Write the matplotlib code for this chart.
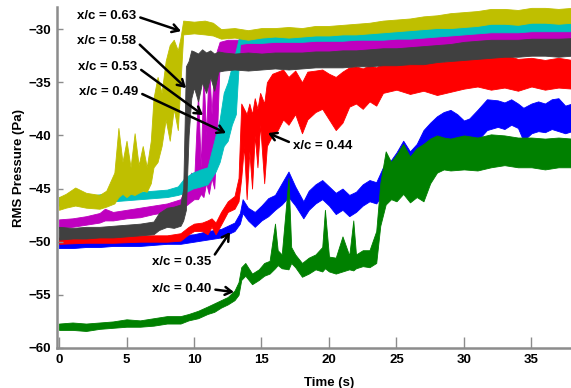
import matplotlib
matplotlib.use('Agg')
import matplotlib.pyplot as plt

plt.rcParams['font.family'] = ['Liberation Sans', 'DejaVu Sans']
plt.rcParams['font.weight'] = 'bold'

# x/c = 0.35 (blue)
t_035 = [0, 1, 2, 3, 4, 5, 6, 7, 8, 9, 10, 11, 12, 12.5, 13.0, 13.4, 13.6, 14.0, 14.5, 15.0, 15.5,
         16.0, 16.5, 17.0, 17.5, 18.1, 18.5, 19.0, 19.5, 20.0, 20.5, 21.0, 21.5, 22.0, 22.5, 23.0,
         23.5, 24.0, 24.5, 25.0, 25.5, 26.0, 26.5, 27.0, 27.5, 28.0, 28.5, 29.0, 29.5, 30.0, 30.4,
         31.0, 31.7, 32.5, 33.0, 33.5, 34.0, 34.4, 35.0, 35.5, 36.0, 36.5, 37.0, 37.5, 38.0]
lo_035 = [-50.6, -50.6, -50.5, -50.5, -50.4, -50.4, -50.4, -50.3, -50.2, -50.2, -50.0, -49.8, -49.6,
          -49.3, -49.0, -48.3, -47.3, -48.0, -48.6, -48.0, -47.6, -47.0, -46.5, -45.8, -46.6, -47.8,
          -47.0, -46.4, -46.0, -46.6, -47.4, -47.0, -47.6, -47.2, -46.6, -46.2, -46.4, -45.5, -45.0,
          -45.2, -44.5, -45.0, -44.6, -44.5, -43.0, -41.5, -40.6, -40.3, -40.8, -41.2, -41.8, -40.5,
          -39.5, -39.2, -39.4, -39.0, -39.3, -40.5, -39.8, -39.6, -39.7, -39.4, -39.6, -39.8, -39.6]
hi_035 = [-49.9, -49.9, -49.8, -49.8, -49.7, -49.6, -49.7, -49.6, -49.5, -49.4, -49.3, -49.0, -48.8,
          -48.5, -48.2, -47.3, -46.0, -46.8, -47.2, -46.6, -45.9, -45.6, -44.5, -43.4, -44.8, -46.2,
          -45.2, -44.6, -44.2, -44.8, -45.4, -45.0, -45.6, -45.3, -44.6, -44.2, -44.4, -43.0, -42.5,
          -41.6, -40.5, -41.5, -40.8, -39.5, -38.8, -38.2, -37.8, -37.6, -38.0, -38.6, -38.4, -37.6,
          -36.6, -36.7, -36.9, -36.6, -37.0, -37.4, -37.0, -36.8, -37.0, -36.6, -36.5, -37.2, -37.0]

# x/c = 0.40 (green)
t_040 = [0, 1, 2, 3, 4, 5, 6, 7, 8, 9, 9.6, 10.3, 11, 11.5, 12, 12.5, 13, 13.3, 13.5, 13.8, 14.3,
         14.8, 15.2, 15.6, 16.0, 16.2, 16.5, 17.0, 17.2, 17.5, 18.0, 18.5, 19.0, 19.5, 19.7, 20.0,
         20.5, 21.0, 21.5, 21.8, 22.0, 22.5, 23.0, 23.5, 23.8, 24.2, 24.6, 25.0, 25.5, 26.0, 26.5,
         27.0, 27.5, 28.0, 28.5, 29, 30, 31, 32, 33, 34, 35, 36, 37, 38]
lo_040 = [-58.3, -58.3, -58.4, -58.2, -58.1, -58.0, -58.0, -57.9, -57.7, -57.7, -57.4, -57.2, -56.8,
          -56.6, -56.2, -55.9, -55.5, -55.0, -53.6, -53.2, -54.0, -53.6, -53.2, -53.0, -52.5, -52.2,
          -52.5, -52.6, -52.0, -52.4, -53.3, -53.0, -52.6, -52.8, -52.5, -52.8, -53.0, -52.8, -52.6,
          -52.7, -52.5, -52.3, -52.4, -52.0, -48.5, -46.5, -46.0, -46.2, -45.5, -46.3, -45.8, -46.2,
          -44.5, -43.5, -43.2, -43.3, -43.2, -43.3, -43.0, -42.8, -43.0, -43.0, -43.2, -43.0, -43.0]
hi_040 = [-57.7, -57.6, -57.7, -57.6, -57.5, -57.3, -57.4, -57.2, -57.0, -57.0, -56.8, -56.5, -56.1,
          -55.8, -55.5, -55.2, -54.6, -53.8, -52.4, -52.0, -53.0, -52.6, -52.0, -51.8, -48.3, -50.8,
          -51.2, -44.0, -50.5, -51.2, -52.0, -51.5, -51.2, -50.5, -47.0, -51.4, -51.5, -49.5, -51.3,
          -48.0, -51.2, -50.8, -50.8, -49.0, -44.5, -41.5, -42.5, -41.8, -40.8, -42.0, -41.2, -40.8,
          -40.3, -40.0, -40.2, -40.3, -40.0, -40.2, -39.9, -40.0, -40.2, -40.2, -40.3, -40.2, -40.3]

# x/c = 0.44 (red)
t_044 = [0, 2, 4, 6, 8, 9, 9.6, 10.0, 10.6, 11.0, 11.3, 11.6, 12.0, 12.5, 13.0, 13.3, 13.5, 13.7,
         13.9, 14.1, 14.3, 14.5, 14.7, 14.9, 15.2, 15.4, 15.8, 16.2, 16.6, 17.0, 17.5, 18.0, 18.4,
         19.0, 19.5, 20.0, 20.5, 21.0, 21.5, 22.0, 22.5, 23.0, 23.5, 24, 25, 26, 27, 28, 29, 30, 31,
         32, 33, 34, 35, 36, 37, 38]
lo_044 = [-50.2, -50.1, -50.1, -50.0, -50.0, -49.9, -49.3, -49.0, -49.0, -49.3, -48.6, -49.3, -48.4,
          -47.2, -46.9, -46.2, -44.0, -41.0, -46.0, -41.5, -45.0, -40.0, -43.0, -39.0, -44.5, -41.0,
          -40.0, -39.5, -38.5, -39.0, -38.0, -39.8, -38.5, -37.8, -37.5, -38.5, -39.5, -38.8, -37.3,
          -37.0, -37.5, -36.8, -37.2, -36.0, -35.7, -36.1, -35.8, -36.2, -35.9, -35.6, -35.4, -35.7,
          -35.5, -35.8, -35.4, -35.7, -35.5, -35.6]
hi_044 = [-49.6, -49.5, -49.5, -49.4, -49.4, -49.2, -48.6, -48.3, -48.2, -48.0, -47.8, -48.2, -47.2,
          -46.2, -45.7, -44.0, -37.0, -37.5, -38.0, -37.0, -38.0, -36.5, -37.5, -36.0, -37.0, -35.0,
          -34.2, -34.0, -33.8, -34.5, -33.9, -35.0, -34.0, -33.9, -33.8, -34.2, -34.5, -34.0, -33.6,
          -33.5, -33.7, -33.4, -33.6, -33.2, -33.0, -33.3, -32.9, -33.1, -33.0, -32.7, -32.5, -32.6,
          -32.4, -32.8, -32.7, -32.9, -32.7, -32.9]

# x/c = 0.49 (cyan)
t_049 = [0, 2, 4, 5, 6, 7, 8, 8.8, 9.3, 9.9, 10.5, 11.0, 11.3, 11.6, 11.9, 12.2, 12.5, 12.8, 13.1,
         13.4, 14, 15, 16, 17, 18, 19, 20, 21, 22, 23, 24, 25, 26, 27, 28, 29, 30, 31, 32, 33, 34,
         35, 36, 37, 38]
lo_049 = [-46.6, -46.5, -46.2, -46.1, -46.0, -45.9, -45.8, -45.6, -45.4, -45.0, -44.8, -44.6, -44.0,
          -43.4, -42.5, -41.0, -40.5, -39.0, -38.0,
          -31.4, -31.3, -31.3, -31.2, -31.2, -31.2, -31.1, -31.1, -31.1, -31.0, -31.0, -31.0, -30.9,
          -30.9, -30.8, -30.7, -30.6, -30.5, -30.4, -30.3, -30.3, -30.3, -30.2, -30.2, -30.2, -30.2]
hi_049 = [-45.8, -45.7, -45.4, -45.3, -45.3, -45.2, -45.1, -44.8, -44.0, -43.5, -43.2, -43.0, -41.5,
          -40.0, -38.5, -36.0, -35.0, -33.5, -32.0,
          -30.4, -30.6, -30.4, -30.3, -30.4, -30.3, -30.2, -30.2, -30.1, -30.1, -30.0, -29.9, -29.8,
          -29.7, -29.6, -29.5, -29.5, -29.4, -29.3, -29.1, -29.1, -29.2, -29.0, -29.0, -29.1, -29.0]

# x/c = 0.53 (magenta)
t_053 = [0, 1, 2, 3, 3.4, 4, 5, 6, 7, 8, 9, 9.5, 9.8, 10.0, 10.3, 10.5, 10.7, 10.9, 11.1, 11.3, 11.5,
         11.7, 11.9, 12.5, 14, 16, 18, 20, 22, 24, 26, 28, 30, 32, 34, 36, 38]
lo_053 = [-48.7, -48.6, -48.4, -48.2, -48.0, -48.0, -47.8, -47.7, -47.4, -47.2, -47.0, -46.5, -46.2,
          -46.0, -46.0, -45.5, -45.8, -44.5, -45.5, -44.0, -45.0, -40.0,
          -33.0, -32.6, -32.6, -32.6, -32.6, -32.5, -32.4, -32.2, -32.1, -31.9, -31.6, -31.4, -31.4,
          -31.3, -31.3]
hi_053 = [-47.9, -47.8, -47.6, -47.3, -46.9, -47.2, -47.0, -46.8, -46.6, -46.4, -46.0, -44.5, -43.5,
          -44.5, -36.0, -43.0, -34.0, -40.0, -33.0, -38.0, -33.0, -32.0,
          -31.2, -31.0, -31.0, -30.9, -30.9, -30.8, -30.7, -30.6, -30.5, -30.3, -30.1, -29.9, -29.9,
          -29.8, -29.8]

# x/c = 0.63 (yellow)
t_063 = [0, 0.5, 1.2, 2, 3, 3.5, 4.1, 4.4, 4.7, 5.0, 5.3, 5.6, 5.9, 6.2, 6.5, 6.8, 7.0, 7.3, 7.6, 7.9,
         8.2, 8.5, 8.8, 9.0, 9.2, 10, 10.8, 11.4, 12, 13, 14, 15, 16, 17, 18, 19, 20, 21, 22, 23, 24,
         25, 26, 27, 28, 29, 30, 31, 32, 33, 34, 35, 36, 37, 38]
lo_063 = [-47.0, -46.8, -46.6, -46.8, -46.9, -46.7, -46.4, -45.8, -45.5, -45.8, -45.5, -45.6, -45.4,
          -45.2, -45.3, -44.5, -43.0, -42.5, -41.0, -38.5, -40.5, -37.5, -39.5, -35.0, -30.5, -30.4,
          -30.5, -30.6,
          -30.9, -30.8, -31.0, -30.8, -30.7, -30.8, -30.7, -30.6, -30.6, -30.5, -30.5, -30.4, -30.3,
          -30.2, -30.1, -30.0, -29.9, -29.9, -29.8, -29.7, -29.5, -29.5, -29.6, -29.4, -29.4, -29.5,
          -29.4]
hi_063 = [-45.8, -45.5, -44.9, -45.4, -45.6, -45.2, -43.5, -39.3, -42.5, -40.5, -43.0, -39.8, -42.8,
          -41.0, -43.0, -40.5, -36.5, -34.5, -36.0, -33.0, -31.5, -31.0, -32.0, -30.8, -29.2, -29.3,
          -29.2, -29.4,
          -30.0, -29.9, -30.1, -29.9, -29.9, -29.8, -29.9, -29.7, -29.7, -29.6, -29.5, -29.4, -29.2,
          -29.1, -29.0, -28.8, -28.7, -28.5, -28.4, -28.3, -28.1, -28.1, -28.2, -28.0, -28.0, -28.1,
          -28.0]

# x/c = 0.58 (dark grey)
t_058 = [0, 1, 2, 3, 4, 5, 6, 7, 7.4, 8, 8.5, 9.0, 9.2, 9.4, 9.6, 9.8, 10.0, 10.3, 10.6, 10.9, 11.2,
         11.5, 11.8, 12.2, 13, 14, 15, 16, 17, 18, 19, 20, 21, 22, 23, 24, 25, 26, 27, 28, 29, 30,
         31, 32, 33, 34, 35, 36, 37, 38]
lo_058 = [-49.8, -49.7, -49.7, -49.6, -49.6, -49.5, -49.4, -49.3, -48.9, -48.6, -48.7, -48.5, -48.0,
          -47.0, -40.0, -36.5, -35.5, -36.8, -35.0, -36.0, -34.5, -35.8, -34.0, -33.9,
          -33.8, -33.9, -33.8, -33.7, -33.8, -33.7, -33.6, -33.6, -33.6, -33.5, -33.5, -33.4, -33.4,
          -33.3, -33.3, -33.1, -33.0, -32.9, -32.8, -32.7, -32.6, -32.6, -32.5, -32.5, -32.6, -32.5]
hi_058 = [-48.6, -48.7, -48.6, -48.6, -48.5, -48.4, -48.3, -48.1, -47.3, -46.8, -46.7, -46.5, -45.0,
          -33.5, -33.0, -32.0, -32.1, -32.3, -31.9, -32.2, -32.0, -32.3, -32.1, -32.2,
          -32.3, -32.2, -32.3, -32.2, -32.2, -32.2, -32.1, -32.1, -32.0, -32.0, -31.9, -31.8, -31.8,
          -31.7, -31.6, -31.5, -31.4, -31.2, -31.1, -31.0, -31.0, -31.0, -30.9, -30.9, -30.9, -30.85]

# drawing order: later ones on top
series = [
    (t_035, lo_035, hi_035, '#0000ff'),
    (t_040, lo_040, hi_040, '#008000'),
    (t_044, lo_044, hi_044, '#ff0000'),
    (t_053, lo_053, hi_053, '#bf00bf'),
    (t_049, lo_049, hi_049, '#00bfbf'),
    (t_063, lo_063, hi_063, '#bfbf00'),
    (t_058, lo_058, hi_058, '#404040'),
]

fig = plt.figure(figsize=(5.71, 3.88), dpi=100)
ax = fig.add_axes([57 / 571, 40 / 388, 514 / 571, 341 / 388])

for t, lo, hi, c in series:
    ax.fill_between(t, lo, hi, color=c, lw=0.6, edgecolor=c)

ax.set_xlim(-0.15, 37.93)
ax.set_ylim(-60, -27.92)
ax.set_xticks(range(0, 36, 5))
ax.set_yticks(range(-60, -29, 5))

for s in ['top', 'right']:
    ax.spines[s].set_visible(False)
for s in ['left', 'bottom']:
    ax.spines[s].set_color('#8c8c8c')
    ax.spines[s].set_linewidth(1.8)
ax.tick_params(axis='x', direction='in', length=8, width=1, color='#8c8c8c', labelsize=9.5, pad=4)
ax.tick_params(axis='y', direction='in', length=4, width=1, color='#8c8c8c', labelsize=9.5, pad=4)

ax.set_xlabel('Time (s)', fontsize=9.5, fontweight='bold')
ax.set_ylabel('RMS Pressure (Pa)', fontsize=9.5, fontweight='bold')
ax.xaxis.set_label_coords(0.529, -0.085)
ax.yaxis.set_label_coords(-0.062, 0.528)

arrow = dict(arrowstyle='->,head_length=0.5,head_width=0.3', lw=1.8, color='black',
             shrinkA=1, shrinkB=0)
labels = [
    ('x/c = 0.63', (1.33, -28.78), (9.04, -30.19), (1, 0.5)),
    ('x/c = 0.58', (1.33, -31.13), (9.41, -35.55), (1, 0.5)),
    ('x/c = 0.53', (1.41, -33.57), (10.67, -38.09), (1, 0.5)),
    ('x/c = 0.49', (1.48, -35.93), (12.37, -39.78), (1, 0.5)),
    ('x/c = 0.44', (17.33, -41.0), (15.48, -39.78), (0, 0.7)),
    ('x/c = 0.35', (6.89, -51.92), (12.67, -49.1), (1, 0.7)),
    ('x/c = 0.40', (6.89, -54.46), (12.96, -54.74), (1, 0.5)),
]
for txt, xyt, xy, rp in labels:
    a = dict(arrow)
    a['relpos'] = rp
    ax.annotate(txt, xy=xy, xytext=xyt, ha='left', va='center', fontsize=9.5,
                fontweight='bold', arrowprops=a)

fig.savefig('out.png', dpi=100)
